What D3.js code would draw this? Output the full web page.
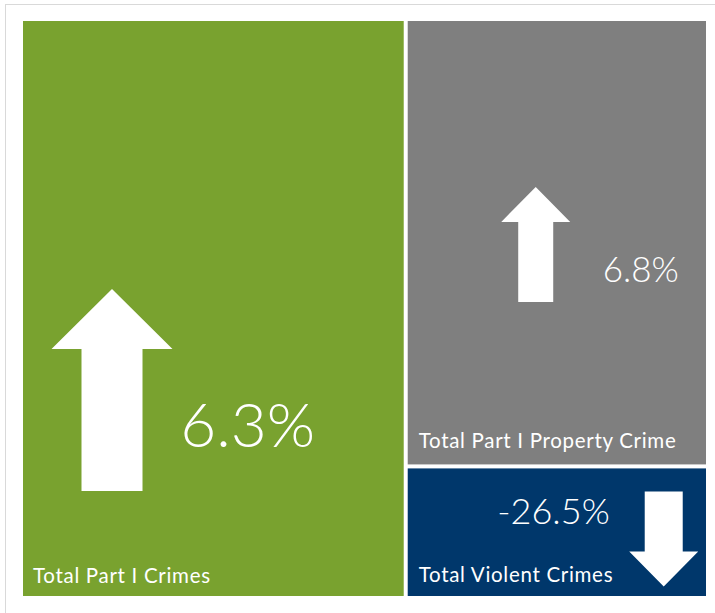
<!DOCTYPE html>
<html>
<head>
<meta charset="utf-8">
<script src="https://cdn.jsdelivr.net/npm/d3@7"></script>
<style>
  html, body { margin: 0; padding: 0; background: #fff; }
  svg { display: block; }
</style>
</head>
<body>
<svg id="chart" width="715" height="613"></svg>
<script>
// ---- data ----
const categories = ["Total Part I Crimes", "Total Part I Property Crime", "Total Violent Crimes"];
const sizes = [56.0, 34.0, 10.0];         // relative tile areas (estimated)
const changes = [6.3, 6.8, -26.5];        // percent change
const changeLabels = ["6.3%", "6.8%", "-26.5%"];
const colors = ["#79A22F", "#7F7F7F", "#00376B"];

// ---- layout ----
const svg = d3.select("#chart");
const padLeft = 23, padTop = 21, innerW = 683, innerH = 575;

svg.append("rect")
  .attr("x", 5.5).attr("y", 4.5)
  .attr("width", 730).attr("height", 630)
  .attr("fill", "none").attr("stroke", "#d9d9d9").attr("stroke-width", 1);

const leaves = categories.map((c, i) => ({name: c, idx: i, size: sizes[i], change: changes[i], label: changeLabels[i], color: colors[i]}));
// Total in its own column; property and violent stacked in the second column
const root = d3.hierarchy({children: [leaves[0], {children: [leaves[1], leaves[2]]}]})
  .sum(d => d.size || 0);

d3.treemap()
  .tile(d3.treemapSliceDice)
  .size([innerW, innerH])
  .paddingInner(4)(root);

const g = svg.append("g").attr("transform", `translate(${padLeft},${padTop})`);

const cell = g.selectAll("g.cell")
  .data(root.leaves())
  .join("g").attr("class", "cell")
  .attr("transform", d => `translate(${d.x0},${d.y0})`);

cell.append("rect")
  .attr("width", d => d.x1 - d.x0)
  .attr("height", d => d.y1 - d.y0)
  .attr("fill", d => d.data.color);

function arrowPath(cx, yTip, yBase, yEnd, headW, shaftW) {
  const p = d3.path();
  p.moveTo(cx, yTip);
  p.lineTo(cx + headW / 2, yBase);
  p.lineTo(cx + shaftW / 2, yBase);
  p.lineTo(cx + shaftW / 2, yEnd);
  p.lineTo(cx - shaftW / 2, yEnd);
  p.lineTo(cx - shaftW / 2, yBase);
  p.lineTo(cx - headW / 2, yBase);
  p.closePath();
  return p.toString();
}

// geometry relative to each tile's top-left corner
const arrowGeom = [
  {cx: 89, tip: 268, base: 328, end: 470, headW: 121, shaftW: 61,
   tx: 292, ty: 426, fs: 62, lx: 10, ly: 562},
  {cx: 128, tip: 166, base: 201, end: 281, headW: 69, shaftW: 35,
   tx: 271, ty: 261, fs: 35, lx: 11, ly: 427},
  {cx: 256, tip: 118, base: 83, end: 23, headW: 69, shaftW: 38,
   tx: 202, ty: 56, fs: 36, lx: 11, ly: 114}
];

cell.each(function(d) {
  const a = arrowGeom[d.data.idx];
  const c = d3.select(this);
  c.append("path")
    .attr("d", arrowPath(a.cx, a.tip, a.base, a.end, a.headW, a.shaftW))
    .attr("fill", "#fff");
  c.append("text")
    .attr("x", a.tx).attr("y", a.ty)
    .attr("text-anchor", "end")
    .attr("fill", "#fff")
    .style("font-family", "Lato, 'Noto Sans', sans-serif")
    .style("font-weight", 300)
    .style("font-size", a.fs + "px")
    .text(d.data.label);
  c.append("text")
    .attr("x", a.lx).attr("y", a.ly)
    .attr("fill", "#fff")
    .style("font-family", "Lato, 'Open Sans', sans-serif")
    .style("font-size", "20.5px")
    .style("letter-spacing", "0.7px")
    .text(d.data.name);
});
</script>
</body>
</html>
